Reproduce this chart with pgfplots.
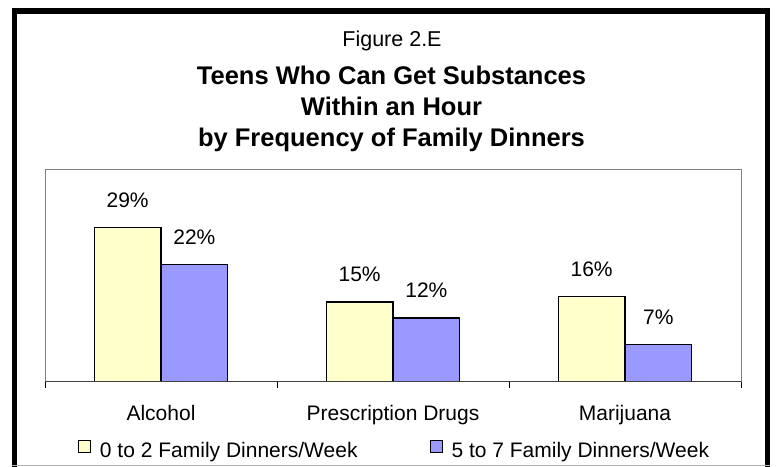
\documentclass[border=0pt]{standalone}
\usepackage{fontspec}
\setmainfont{Liberation Sans}
\usepackage{pgfplots}
\pgfplotsset{compat=1.18}
\definecolor{barY}{HTML}{FFFFCC}
\definecolor{barB}{HTML}{9999FF}
\pgfplotsset{sqlegend/.style={legend image code/.code={\draw[##1,line width=1pt] (-1pt,-2pt) rectangle (11pt,10pt);}}}
\begin{document}
\begin{tikzpicture}[x=1pt,y=1pt]
\useasboundingbox (0,0) rectangle (778,466);
\begin{scope}
\clip (0,0) rectangle (778,466);
\draw[line width=5.5pt] (14.5,-3.5) rectangle (767.5,455);
\draw[gray!60, line width=1pt] (12,0.5) -- (770,0.5);
\end{scope}
\node[anchor=base, inner sep=0pt, font=\fontsize{21.5}{25}\selectfont] at (392,419) {Figure 2.E};
\node[anchor=base, inner sep=0pt, font=\fontsize{25.5}{30}\selectfont\bfseries] at (391.5,381) {Teens Who Can Get Substances};
\node[anchor=base, inner sep=0pt, font=\fontsize{25.5}{30}\selectfont\bfseries] at (391.5,350) {Within an Hour};
\node[anchor=base, inner sep=0pt, font=\fontsize{25.5}{30}\selectfont\bfseries] at (391.5,319) {by Frequency of Family Dinners};
\begin{axis}[
  at={(45pt,84.3pt)}, anchor=south west, scale only axis,
  width=696pt, height=212.7pt,
  xmin=-0.5, xmax=2.5, ymin=0, ymax=40,
  ybar=0pt, bar width=0.2875,
  axis line style={draw=none},
  ytick=\empty,
  xtick={0,1,2}, xticklabels={Alcohol,Prescription Drugs,Marijuana},
  major tick length=0pt,
  minor xtick={-0.5,0.5,1.5,2.5},
  minor tick length=6pt,
  tick align=outside, xtick pos=bottom,
  minor x tick style={black, line width=0.8pt},
  xticklabel style={anchor=base, yshift=-38.3pt, inner sep=0pt, font=\fontsize{21}{25}\selectfont},
  /pgf/number format/assume math mode=true,
  nodes near coords={\pgfmathprintnumber{\pgfplotspointmeta}\%},
  every node near coord/.append style={anchor=base, yshift=20pt, inner sep=0pt, font=\fontsize{21}{25}\selectfont, black},
  legend columns=2,
  legend style={at={(0.0474,-0.2727)}, anchor=north west, draw=none, fill=none,
    inner sep=0pt, outer sep=0pt, font=\fontsize{21}{25}\selectfont,
    nodes={inner sep=0pt},
    /tikz/every odd column/.append style={column sep=9pt},
    /tikz/every even column/.append style={column sep=72pt}},
  clip=false,
]
\addplot[sqlegend, draw=black, line width=1.3pt, fill=barY] coordinates {(0,29) (1,15) (2,16)};
\addplot[sqlegend, draw=black, line width=1.3pt, fill=barB] coordinates {(0,22) (1,12) (2,7)};
\legend{0 to 2 Family Dinners/Week, 5 to 7 Family Dinners/Week}
\draw[gray, line width=1pt] (rel axis cs:0,0) rectangle (rel axis cs:1,1);
\draw[black!75, line width=1pt] (rel axis cs:0,0) -- (rel axis cs:1,0);
\end{axis}
\end{tikzpicture}
\end{document}
